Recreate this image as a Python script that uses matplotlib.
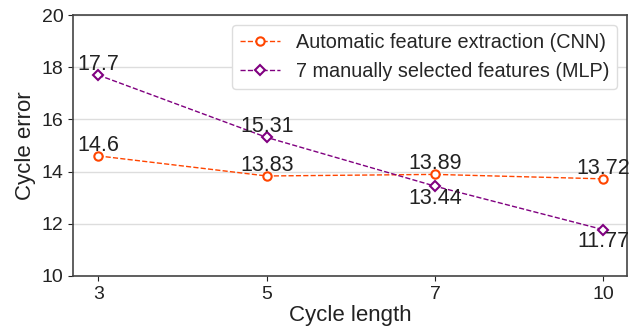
import matplotlib
matplotlib.use("Agg")
import matplotlib.pyplot as plt
import seaborn as sns

# data
cycle_lengths = ["3", "5", "7", "10"]
cnn_error = [14.6, 13.83, 13.89, 13.72]
mlp_error = [17.7, 15.31, 13.44, 11.77]
cnn_label = "Automatic feature extraction (CNN)"
mlp_label = "7 manually selected features (MLP)"
# label above (+1) or below (-1) each point
cnn_side = [1, 1, 1, 1]
mlp_side = [1, 1, -1, -1]

sns.set_style("ticks")
plt.rcParams['font.family'] = ['Liberation Sans', 'DejaVu Sans']

fig, ax = plt.subplots(figsize=(6.41, 3.28), dpi=100)
x = list(range(len(cycle_lengths)))

ax.plot(x, cnn_error, '--o', color='orangered', lw=1, ms=6,
        mfc='white', mew=1.5, label=cnn_label)
ax.plot(x, mlp_error, '--D', color='purple', lw=1, ms=5.5,
        mfc='white', mew=1.5, label=mlp_label)


def label_points(values, sides):
    for xi, v, s in zip(x, values, sides):
        ax.annotate(f"{v:g}", (xi, v), xytext=(0, 0 if s > 0 else -1),
                    textcoords='offset points', ha='center',
                    va='bottom' if s > 0 else 'top', fontsize=15.5,
                    color='#222222')


label_points(cnn_error, cnn_side)
label_points(mlp_error, mlp_side)

ax.set_xticks(x)
ax.set_xticklabels(cycle_lengths)
ax.set_xlim(-0.15, 3.14)
ax.set_ylim(10, 20)
ax.set_yticks([10, 12, 14, 16, 18, 20])
ax.yaxis.grid(True, color='#dddddd', lw=1)
ax.set_axisbelow(True)
ax.tick_params(labelsize=14, colors='#222222')
for sp in ax.spines.values():
    sp.set_color('#444444')
    sp.set_linewidth(1.2)
ax.set_xlabel("Cycle length", fontsize=16, color='#222222', labelpad=2)
ax.set_ylabel("Cycle error", fontsize=16, color='#222222')
ax.legend(loc='upper right', fontsize=14.3, framealpha=1, edgecolor='#dddddd')

plt.subplots_adjust(left=0.114, right=0.978, top=0.954, bottom=0.159)
plt.savefig("out.png", dpi=100)
